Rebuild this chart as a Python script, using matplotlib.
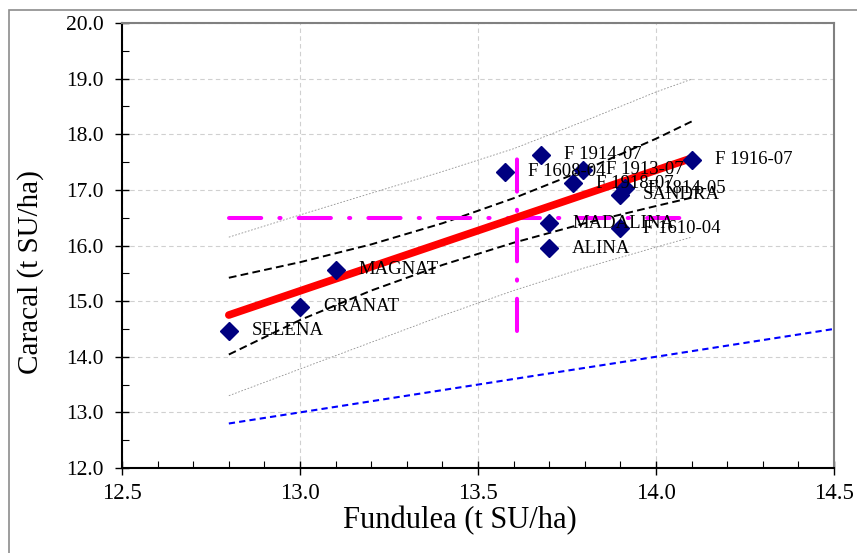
import numpy as np
import matplotlib.pyplot as plt
from matplotlib.patches import Rectangle
from matplotlib.ticker import MultipleLocator, FormatStrFormatter

# soiuri (Fundulea, Caracal) in t SU/ha
names = ["SELENA", "GRANAT", "MAGNAT", "F 1608-04", "F 1914-07", "F 1913-07",
         "F 1918-07", "SANDRA", "F 1814-05", "MADALINA", "F 1610-04", "ALINA",
         "F 1916-07"]
fundulea = [12.80, 13.00, 13.10, 13.576, 13.676, 13.794,
            13.766, 13.899, 13.913, 13.70, 13.899, 13.70, 14.10]
caracal = [14.47, 14.90, 15.56, 17.33, 17.63, 17.36,
           17.12, 16.91, 17.03, 16.40, 16.31, 15.95, 17.54]

# dreapta de regresie (capete)
fit_x = [12.8, 14.1]
fit_y = [14.75, 17.57]

# benzile de incredere / predictie
band_x = [12.8, 13.0, 13.2, 13.4, 13.6, 13.8, 14.0, 14.1]
conf_up = [15.42, 15.70, 16.02, 16.40, 16.85, 17.36, 17.92, 18.23]
conf_lo = [14.04, 14.66, 15.19, 15.65, 16.05, 16.40, 16.71, 16.86]
pred_up = [16.15, 16.55, 16.94, 17.33, 17.74, 18.24, 18.76, 18.99]
pred_lo = [13.30, 13.78, 14.26, 14.74, 15.19, 15.60, 15.97, 16.15]

# linia 1:1
diag = [12.8, 14.5]

fig = plt.figure(figsize=(8.57, 5.53), dpi=100)
ax = fig.add_axes([0.1424, 0.1537, 0.8308, 0.8047])
plt.rcParams['font.family'] = 'Liberation Serif'

# chenarul figurii
fig.patches.append(Rectangle((9 / 857, -0.1), 1.2, 1 - 10 / 553 + 0.1,
                             transform=fig.transFigure, fill=False,
                             ec='#8c8c8c', lw=1.2))

ax.plot(diag, diag, color='#0000ff', lw=1.5, linestyle=(0, (3, 2)))
ax.plot(band_x, pred_up, color='#909090', lw=0.6, linestyle=(0, (2, 2)))
ax.plot(band_x, pred_lo, color='#909090', lw=0.6, linestyle=(0, (2, 2)))
ax.plot(band_x, conf_up, color='black', lw=1.4, linestyle=(0, (4, 2.2)))
ax.plot(band_x, conf_lo, color='black', lw=1.4, linestyle=(0, (4, 2.2)))

# mediile
mx = np.mean(fundulea)
my = np.mean(caracal)
mag = dict(color='#ff00ff', lw=2.9, dash_capstyle='round',
           linestyle=(0, (8, 4.5, 0.3, 4.5)))
ax.plot([min(fundulea), max(fundulea)], [my, my], **mag)
ax.plot([mx, mx], [min(caracal), max(caracal)], **mag)

ax.plot(fit_x, fit_y, color='#ff0000', lw=5.5, solid_capstyle='round')

ax.plot(fundulea, caracal, 'D', color='#000080', ms=9.5, mec='#000080')
for n, x, y in zip(names, fundulea, caracal):
    ax.annotate(n, (x, y), xytext=(16.5, 0), textcoords='offset points',
                va='center', ha='left', fontsize=13.5, family='Liberation Serif')

ax.set_xlim(12.5, 14.5)
ax.set_ylim(12.0, 20.0)
ax.xaxis.set_major_locator(MultipleLocator(0.5))
ax.xaxis.set_minor_locator(MultipleLocator(0.1))
ax.yaxis.set_major_locator(MultipleLocator(1.0))
ax.yaxis.set_minor_locator(MultipleLocator(0.5))
ax.xaxis.set_major_formatter(FormatStrFormatter('%.1f'))
ax.yaxis.set_major_formatter(FormatStrFormatter('%.1f'))

ax.grid(True, which='major', color='#d0d0d0', lw=0.8, linestyle=(0, (4, 3)))
ax.set_axisbelow(True)
ax.tick_params(which='major', direction='inout', length=10, width=1)
ax.tick_params(which='minor', direction='in', length=5, width=0.8)
ax.tick_params(axis='x', which='major', pad=6, labelsize=16.5)
ax.tick_params(axis='y', which='major', pad=8, labelsize=15.5)
for lab in ax.get_xticklabels() + ax.get_yticklabels():
    lab.set_family('Liberation Serif')

for s in ['left', 'bottom']:
    ax.spines[s].set_color('black')
    ax.spines[s].set_linewidth(1.5)
for s in ['top', 'right']:
    ax.spines[s].set_color('#808080')
    ax.spines[s].set_linewidth(1.5)

ax.set_xlabel("Fundulea (t SU/ha)", fontsize=22, family='Liberation Serif')
ax.set_ylabel("Caracal (t SU/ha)", fontsize=21, family='Liberation Serif')
ax.xaxis.set_label_coords(0.475, -0.085)
ax.yaxis.set_label_coords(-0.11, 0.44)

fig.savefig("out.png", dpi=100)
